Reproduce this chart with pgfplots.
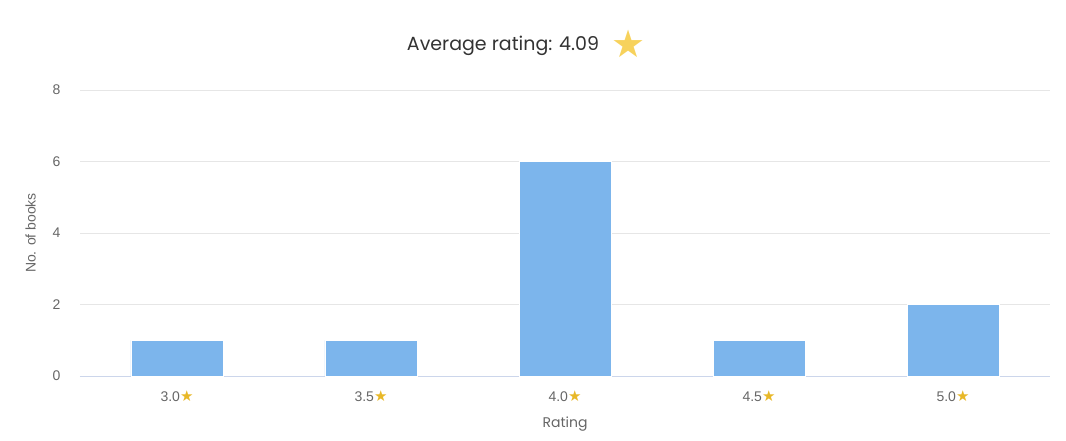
\documentclass[border=0pt]{standalone}
\usepackage{fontspec}
\setmainfont{Liberation Sans}
\newfontfamily\titlefont{Poppins}
\newfontfamily\symfont{DejaVu Sans}
\usepackage{pgfplots}
\pgfplotsset{compat=1.18}
\definecolor{barc}{HTML}{7CB5EC}
\definecolor{gridc}{HTML}{E6E6E6}
\definecolor{axisc}{HTML}{CCD6EB}
\definecolor{txt}{HTML}{666666}
\definecolor{ttl}{HTML}{333333}
\definecolor{starbig}{HTML}{F7D25C}
\definecolor{starsm}{HTML}{E8B828}
\newcommand\st{{\symfont\color{starsm}\fontsize{15}{15}\selectfont ★}}
\begin{document}
\begin{tikzpicture}[x=1pt,y=1pt]
\path[use as bounding box] (-80,-64) rectangle (986,376);
\begin{axis}[
  at={(0,0)}, anchor=south west,
  scale only axis, width=970pt, height=286pt,
  xmin=-0.5, xmax=4.5, ymin=0, ymax=8,
  ytick={0,2,4,6,8},
  xtick={0,1,2,3,4},
  xticklabels={3.0\st,3.5\st,4.0\st,4.5\st,5.0\st},
  axis x line*=bottom,
  axis y line*=left,
  y axis line style={draw=none},
  x axis line style={draw=axisc, line width=1pt, -},
  ymajorgrids, grid style={draw=gridc, line width=0.8pt},
  major tick length=0pt,
  tick style={draw=none},
  ticklabel style={font=\fontsize{14}{14}\selectfont, text=txt},
  /pgf/number format/assume math mode=true,
  yticklabel style={xshift=-16pt},
  xticklabel style={yshift=-11pt},
  xlabel={Rating}, ylabel={No. of books},
  label style={font=\fontsize{14}{14}\selectfont, text=txt},
  xlabel style={yshift=-8pt, font=\titlefont\fontsize{14}{14}\selectfont},
  ylabel style={yshift=10pt},
  clip=false,
]
\addplot[ybar, bar width=92pt, fill=barc, draw=white, line width=0.8pt] coordinates {(0,1) (1,1) (2,6) (3,1) (4,2)};
\end{axis}
\node[anchor=center, text=ttl, font=\titlefont\fontsize{19}{19}\selectfont] at (423,330) {Average rating: 4.09};
\node[anchor=center, text=starbig, font=\symfont\fontsize{38}{38}\selectfont] at (549,332) {★};
\end{tikzpicture}
\end{document}
